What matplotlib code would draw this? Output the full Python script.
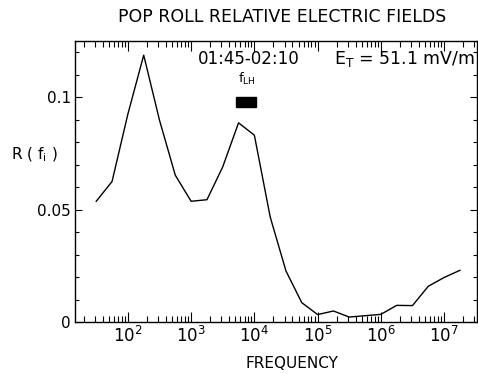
import matplotlib
matplotlib.use("Agg")
import matplotlib.pyplot as plt
from matplotlib.patches import Rectangle
from matplotlib.ticker import FixedLocator, FixedFormatter, LogLocator, NullFormatter

# quarter-decade frequency bins and relative field values
freq = [31.6, 56.2, 100, 178, 316, 562, 1e3, 1.78e3, 3.16e3, 5.62e3, 1e4,
        1.78e4, 3.16e4, 5.62e4, 1e5, 1.78e5, 3.16e5, 5.62e5, 1e6,
        1.78e6, 3.16e6, 5.62e6, 1e7, 1.78e7]
rel_field = [0.0537, 0.0625, 0.0925, 0.1187, 0.0898, 0.0653, 0.0537, 0.0544,
             0.0690, 0.0886, 0.0831, 0.0467, 0.0227, 0.0086, 0.0033, 0.0049,
             0.0022, 0.0028, 0.0034, 0.0074, 0.0073, 0.0159, 0.0198, 0.0230]

x_major = [1e2, 1e3, 1e4, 1e5, 1e6, 1e7]
x_labels = [r'$10^{2}$', r'$10^{3}$', r'$10^{4}$', r'$10^{5}$', r'$10^{6}$', r'$10^{7}$']
y_major = [0, 0.05, 0.1]
y_labels = ['0', '0.05', '0.1']

flh_lo, flh_hi = 5.2e3, 1.08e4

fig = plt.figure(figsize=(4.78, 3.74), dpi=100)
ax = fig.add_axes([75/478, 52/374, 402/478, 281/374])

ax.plot(freq, rel_field, color='black', lw=1.0)
ax.set_xscale('log')
ax.set_xlim(10**1.164, 10**7.52)
ax.set_ylim(0, 0.125)

ax.xaxis.set_major_locator(FixedLocator(x_major))
ax.xaxis.set_major_formatter(FixedFormatter(x_labels))
ax.xaxis.set_minor_locator(LogLocator(base=10, subs=range(2, 10), numticks=20))
ax.xaxis.set_minor_formatter(NullFormatter())
ax.yaxis.set_major_locator(FixedLocator(y_major))
ax.yaxis.set_major_formatter(FixedFormatter(y_labels))
ax.yaxis.set_minor_locator(FixedLocator([0.01, 0.02, 0.03, 0.04, 0.06, 0.07, 0.08, 0.09, 0.11, 0.12]))

ax.tick_params(which='both', direction='in', top=True, right=True, width=0.8)
ax.tick_params(axis='x', which='major', length=7, labelsize=12, pad=3)
ax.tick_params(axis='x', which='minor', length=4)
ax.tick_params(axis='y', which='major', length=5, labelsize=11, pad=3)
ax.tick_params(axis='y', which='minor', length=3)
for s in ax.spines.values():
    s.set_linewidth(1.0)

ax.add_patch(Rectangle((flh_lo, 0.0957), flh_hi - flh_lo, 0.0042, color='black'))
ax.text(7.6e3, 0.1045, r'$\mathregular{f_{LH}}$', ha='center', va='bottom', fontsize=9.5)

ax.text(0.433, 0.935, '01:45-02:10', transform=ax.transAxes, ha='center', va='center', fontsize=12)
ax.text(0.995, 0.935, r'$\mathregular{E_T}$ = 51.1 mV/m', transform=ax.transAxes,
        ha='right', va='center', fontsize=12.5)

fig.text(282/478, 1 - 17/374, 'POP ROLL RELATIVE ELECTRIC FIELDS', ha='center', va='center', fontsize=12.5)
fig.text(292/478, 1 - 363/374, 'FREQUENCY', ha='center', va='center', fontsize=11)
fig.text(34/478, 1 - 155/374, r'R ( $\mathregular{f_i}$ )', ha='center', va='center', fontsize=11)

fig.savefig('out.png', dpi=100)
